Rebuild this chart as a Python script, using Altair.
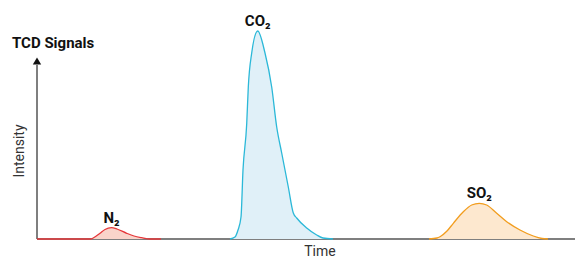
import altair as alt
import pandas as pd

# --- data (time units, signal units) ---
n2_x = [0, 54, 57, 63, 68, 74.5, 80, 89.7, 97, 104.7, 113, 124]
n2_y = [0, 0, 1.5, 5.7, 9.5, 11.3, 10, 5.7, 3, 1.3, 0, 0]

co2_x = [193, 198, 201, 204, 206, 209.7, 211.3, 214.7, 220.7, 228, 234.7, 239.7,
         244.7, 251.3, 256.3, 259.7, 269.7, 279.7, 286, 296]
co2_y = [0, 2, 9, 22, 69, 115, 152, 186, 208, 186, 152, 112,
         86, 52, 26, 21, 11, 4, 1, 0]

so2_x = [392, 400, 403, 410, 416.3, 426.3, 434.7, 442.3, 449.7, 459.7, 469.7, 483, 496.3, 505, 511]
so2_y = [0, 1, 2.3, 8, 15.7, 27.3, 34, 35.7, 34, 25.7, 17.3, 9, 3, 0.5, 0]

names = ["N₂", "CO₂", "SO₂"]
line_colors = ["#e5383b", "#2bb8d8", "#f29d1e"]
fill_colors = ["#f9d4ca", "#e0f0f8", "#fde8cf"]

FONT = "Roboto, sans-serif"

W, H = 538, 219
xs = alt.Scale(domain=[0, W], nice=False, zero=False)
ys = alt.Scale(domain=[0, H], nice=False, zero=False)

layers = []

# axes drawn as decorations
layers.append(
    alt.Chart(pd.DataFrame({"a": [0]})).mark_rule(color="#555555", strokeWidth=1.5)
    .encode(x=alt.value(0), x2=alt.value(W), y=alt.value(H))
)
layers.append(
    alt.Chart(pd.DataFrame({"a": [0]})).mark_rule(color="#555555", strokeWidth=1.5)
    .encode(x=alt.value(0), y=alt.value(45), y2=alt.value(H))
)
layers.append(
    alt.Chart(pd.DataFrame({"a": [0]})).mark_point(shape="triangle-up", filled=True,
                                                    color="#111111", size=70, opacity=1)
    .encode(x=alt.value(0), y=alt.value(41))
)

label_rows = []
for name, xv, yv, lc, fc in zip(names, [n2_x, co2_x, so2_x], [n2_y, co2_y, so2_y],
                                line_colors, fill_colors):
    df = pd.DataFrame({"t": xv, "s": yv})
    layers.append(
        alt.Chart(df).mark_area(color=fc, interpolate="monotone", opacity=1)
        .encode(x=alt.X("t:Q", scale=xs, axis=None), y=alt.Y("s:Q", scale=ys, axis=None))
    )
    layers.append(
        alt.Chart(df).mark_line(color=lc, strokeWidth=1.3, interpolate="monotone")
        .encode(x=alt.X("t:Q", scale=xs, axis=None), y=alt.Y("s:Q", scale=ys, axis=None))
    )
    i = int(pd.Series(yv).idxmax())
    label_rows.append({"name": name, "t": xv[i], "s": yv[i]})

labels = pd.DataFrame(label_rows)
layers.append(
    alt.Chart(labels).mark_text(font=FONT, fontSize=15, fontWeight="bold", color="#111111",
                                dy=-5, baseline="alphabetic", align="center")
    .encode(x=alt.X("t:Q", scale=xs, axis=None), y=alt.Y("s:Q", scale=ys, axis=None),
            text="name:N")
)

layers.append(
    alt.Chart(pd.DataFrame({"txt": ["TCD Signals"]})).mark_text(
        font=FONT, fontSize=15, fontWeight="bold", color="#111111", align="left", baseline="middle")
    .encode(text="txt:N", x=alt.value(-25), y=alt.value(23))
)
layers.append(
    alt.Chart(pd.DataFrame({"txt": ["Intensity"]})).mark_text(
        font=FONT, fontSize=14, color="#333333", align="center", baseline="middle", angle=270)
    .encode(text="txt:N", x=alt.value(-17.5), y=alt.value(131))
)
layers.append(
    alt.Chart(pd.DataFrame({"txt": ["Time"]})).mark_text(
        font=FONT, fontSize=14, color="#333333", align="center", baseline="middle")
    .encode(text="txt:N", x=alt.value(283), y=alt.value(232))
)

chart = alt.layer(*layers).properties(
    width=W, height=H,
    padding={"left": 29, "top": 12, "right": 0, "bottom": 20},
    autosize=alt.AutoSizeParams(type="none"),
).configure_view(stroke=None)

chart.save("out.html", embed_options={"renderer": "svg", "actions": False})
